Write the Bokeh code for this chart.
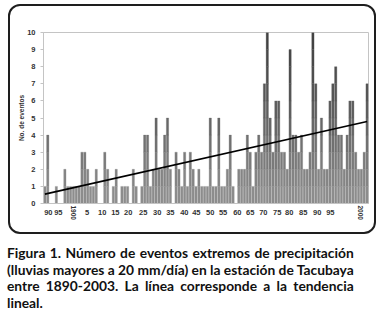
from bokeh.plotting import figure
from bokeh.models import ColumnDataSource, FixedTicker, LinearAxis, Div, Range1d
from bokeh.layouts import column
from bokeh.embed import file_html
from bokeh.resources import INLINE

# ---------------- data ----------------
years = list(range(1890, 2004))
events = [1, 4, 0, 0, 1, 0, 0, 2, 1, 1,
          1, 1, 1, 3, 3, 2, 1, 1, 2, 0,
          0, 3, 2, 0, 1, 2, 0, 1, 1, 1,
          0, 2, 1, 0, 1, 4, 4, 1, 2, 5,
          2, 2, 4, 5, 2, 0, 3, 2, 1, 3,
          1, 3, 2, 1, 2, 1, 1, 1, 5, 1,
          1, 5, 1, 1, 2, 4, 1, 0, 2, 2,
          2, 4, 3, 1, 3, 4, 3, 7, 10, 5,
          3, 6, 6, 3, 3, 2, 9, 4, 4, 3,
          4, 2, 2, 3, 10, 7, 2, 5, 2, 2,
          6, 7, 8, 4, 4, 2, 4, 6, 6, 3,
          2, 2, 3, 7]

# x tick labels as printed on the original chart (positions read from it, in years)
tick_labels = ["90", "95", "1900", "5", "10", "15", "20", "25", "30", "35", "40", "45",
               "50", "55", "60", "65", "70", "75", "80", "85", "90", "95", "2000"]
tick_years = [1891.2, 1894.7, 1899.9, 1904.8, 1910.1, 1914.7, 1919.2, 1924.5, 1929.4,
              1934.0, 1938.9, 1943.1, 1948.0, 1952.5, 1957.5, 1962.0, 1966.6, 1971.5,
              1975.7, 1980.6, 1985.5, 1990.1, 2000.6]
rotated_labels = ["1900", "2000"]
y_ticks = list(range(0, 11))

trend_years = [1890, 2003]
trend_values = [0.55, 4.8]

caption_lines = [
    "Figura 1. Número de eventos extremos de precipitación",
    "(lluvias mayores a 20 mm/día) en la estación de Tacubaya",
    "entre 1890-2003. La línea corresponde a la tendencia",
    "lineal.",
]

# grey shade per unit level (dark at the top of the plot, lighter at the bottom)
shades = ["#8d8d8d", "#858585", "#7b7b7b", "#717171", "#676767",
          "#5e5e5e", "#565656", "#4f4f4f", "#494949", "#434343"]

xs, bots, tops, cols = [], [], [], []
for yr, h in zip(years, events):
    for k in range(h):
        xs.append(yr)
        bots.append(k)
        tops.append(k + 1)
        cols.append(shades[k])
src = ColumnDataSource(dict(x=xs, bottom=bots, top=tops, color=cols))

# ---------------- figure ----------------
W, H = 368, 230
p = figure(width=W, height=H, output_backend="svg", toolbar_location=None,
           x_range=Range1d(1889.5, 2003.5), y_range=Range1d(0, 10),
           min_border_left=35, min_border_right=8, min_border_top=28,
           min_border_bottom=31, margin=(4, 0, 0, 8))

p.vbar(x="x", bottom="bottom", top="top", width=0.8, fill_color="color",
       line_color="color", line_width=0.3, source=src)
p.line(trend_years, trend_values, line_color="black", line_width=1.6)

p.xgrid.visible = False
p.ygrid.visible = False
p.outline_line_color = "#c4c4c4"
p.background_fill_color = "white"
p.border_fill_color = None          # transparent, so the rounded frame shows

LABEL_FONT = "Liberation Sans"

# y axis
p.yaxis.ticker = FixedTicker(ticks=y_ticks)
p.yaxis.axis_line_color = "#c4c4c4"
p.yaxis.major_tick_line_color = "#c4c4c4"
p.yaxis.major_tick_out = 3
p.yaxis.major_tick_in = 0
p.yaxis.minor_tick_line_color = None
p.yaxis.major_label_text_font = LABEL_FONT
p.yaxis.major_label_text_font_style = "bold"
p.yaxis.major_label_text_font_size = "7.5px"
p.yaxis.major_label_text_color = "#333333"
p.yaxis.major_label_standoff = 5
p.yaxis.axis_label = "No. de eventos"
p.yaxis.axis_label_text_font = LABEL_FONT
p.yaxis.axis_label_text_font_style = "bold"
p.yaxis.axis_label_text_font_size = "6.5px"
p.yaxis.axis_label_text_color = "#333333"
p.yaxis.axis_label_standoff = -1

# x axis: horizontal labels
flat_pos = [t for t, l in zip(tick_years, tick_labels) if l not in rotated_labels]
flat_lab = [l for l in tick_labels if l not in rotated_labels]
p.xaxis.ticker = FixedTicker(ticks=flat_pos)
p.xaxis.major_label_overrides = dict(zip(flat_pos, flat_lab))
p.xaxis.axis_line_color = "#c4c4c4"
p.xaxis.major_tick_line_color = None
p.xaxis.major_tick_out = 0
p.xaxis.major_tick_in = 0
p.xaxis.minor_tick_line_color = None
p.xaxis.major_label_text_font = LABEL_FONT
p.xaxis.major_label_text_font_style = "bold"
p.xaxis.major_label_text_font_size = "7.5px"
p.xaxis.major_label_text_color = "#333333"
p.xaxis.major_label_standoff = 6

# x axis: the two century labels, written vertically
rot_pos = [t for t, l in zip(tick_years, tick_labels) if l in rotated_labels]
rot_lab = [l for l in tick_labels if l in rotated_labels]
ax2 = LinearAxis(ticker=FixedTicker(ticks=rot_pos),
                 major_label_overrides=dict(zip(rot_pos, rot_lab)),
                 major_label_orientation="vertical",
                 major_label_standoff=-12,
                 axis_line_color=None, major_tick_line_color=None,
                 minor_tick_line_color=None, major_tick_out=0, major_tick_in=0,
                 major_label_text_font=LABEL_FONT,
                 major_label_text_font_style="bold",
                 major_label_text_font_size="6.5px",
                 major_label_text_color="#333333")
p.add_layout(ax2, "below")

# rounded frame laid over the chart (transparent inside), drawn as HTML content
frame_html = ('<div style="box-sizing:border-box;width:%dpx;height:%dpx;'
              'border:2px solid #1e1e1e;border-radius:12px;'
              'background:transparent"></div>' % (W, H))
frame = Div(text=frame_html, width=W, height=H, margin=(-H, 0, 0, 8),
            styles={"position": "relative", "z-index": "10",
                    "pointer-events": "none"})

# ---------------- caption ----------------
parts = []
for i, line in enumerate(caption_lines):
    if i < len(caption_lines) - 1:
        parts.append('<div style="text-align:justify;text-align-last:justify;'
                     'white-space:nowrap">%s</div>' % line)
    else:
        parts.append('<div style="text-align:left">%s</div>' % line)
cap = Div(text="".join(parts), width=369, height=78, margin=(0, 0, 0, 7),
          styles={"font-family": "Lato", "font-weight": "700",
                  "font-size": "13.8px", "line-height": "16.6px",
                  "color": "#111111", "padding-top": "11px"})

layout = column(p, frame, cap, spacing=0, margin=(0, 0, 0, 0))
open("out.html", "w").write(file_html(layout, INLINE))
